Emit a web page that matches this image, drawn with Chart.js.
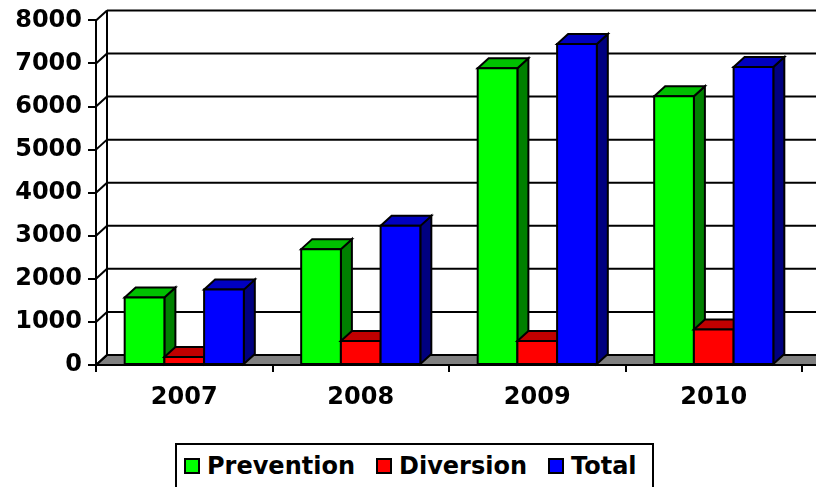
<!DOCTYPE html>
<html>
<head>
<meta charset="utf-8">
<script src="https://cdn.jsdelivr.net/npm/chart.js@4/dist/chart.umd.min.js"></script>
<style>
  body { margin: 0; background: #fff; }
  #wrap { position: relative; width: 816px; height: 487px; overflow: hidden; }
  #legend {
    position: absolute; left: 175px; top: 443px; width: 479px; height: 46px;
    box-sizing: border-box; border: 2px solid #000; background: #fff;
    display: flex; align-items: center; padding-left: 7px;
    font: bold 24px "DejaVu Sans", Verdana, sans-serif; color: #000;
  }
  #legend .sw { width: 16px; height: 16px; box-sizing: border-box; border: 2px solid #000; margin-right: 7px; }
  #legend .item { display: flex; align-items: center; margin-right: 21px; white-space: nowrap; }
</style>
</head>
<body>
<div id="wrap">
  <canvas id="chart" width="816" height="487"></canvas>
  <div id="legend"></div>
</div>
<script>
const years = ["2007", "2008", "2009", "2010"];
const prevention = [1565, 2690, 6890, 6240];
const diversion = [185, 555, 555, 825];
const total = [1750, 3230, 7450, 6920];
const yTicks = [0, 1000, 2000, 3000, 4000, 5000, 6000, 7000, 8000];

const seriesNames = ["Prevention", "Diversion", "Total"];
const seriesData = [prevention, diversion, total];
// front, top, side
const faces = [
  ["#00ff00", "#00c000", "#008000"],
  ["#ff0000", "#c00000", "#800000"],
  ["#0000ff", "#0000c0", "#000080"]
];

const DX = 11, DY = 10;
const FONT = "'DejaVu Sans', Verdana, sans-serif";

function poly(ctx, pts, fill) {
  ctx.beginPath();
  ctx.moveTo(pts[0][0], pts[0][1]);
  pts.slice(1).forEach(p => ctx.lineTo(p[0], p[1]));
  ctx.closePath();
  if (fill) { ctx.fillStyle = fill; ctx.fill(); }
  ctx.stroke();
}
function line(ctx, x1, y1, x2, y2) {
  ctx.beginPath();
  ctx.moveTo(x1, y1);
  ctx.lineTo(x2, y2);
  ctx.stroke();
}

const depth = {
  id: "depth",
  beforeDatasetsDraw(chart) {
    const { ctx, chartArea: a, scales: { y } } = chart;
    const base = y.getPixelForValue(0);
    const far = chart.width + 20;
    ctx.save();
    ctx.strokeStyle = "#000";
    ctx.lineWidth = 2;
    poly(ctx, [[a.left, base], [far, base], [far, base - DY], [a.left + DX, base - DY]], "#808080");
    yTicks.forEach(v => {
      const py = y.getPixelForValue(v);
      line(ctx, a.left, py, a.left + DX, py - DY);
      if (v > 0) line(ctx, a.left + DX, py - DY, far, py - DY);
    });
    line(ctx, a.left + DX, y.getPixelForValue(yTicks[yTicks.length - 1]) - DY, a.left + DX, base - DY);
    ctx.restore();
  },
  afterDatasetsDraw(chart) {
    const { ctx } = chart;
    ctx.save();
    ctx.strokeStyle = "#000";
    ctx.lineWidth = 2;
    ctx.lineJoin = "miter";
    years.forEach((_, i) => {
      seriesData.forEach((_, d) => {
        const bar = chart.getDatasetMeta(d).data[i];
        const { x, y, base, width } = bar.getProps(["x", "y", "base", "width"], true);
        const l = x - width / 2, r = x + width / 2;
        const [front, top, side] = faces[d];
        poly(ctx, [[r, y], [r + DX, y - DY], [r + DX, base - DY], [r, base]], side);
        poly(ctx, [[l, y], [r, y], [r + DX, y - DY], [l + DX, y - DY]], top);
        poly(ctx, [[l, y], [r, y], [r, base], [l, base]], front);
      });
    });
    ctx.restore();
  }
};

new Chart(document.getElementById("chart"), {
  type: "bar",
  data: {
    labels: years,
    datasets: seriesData.map((data, d) => ({
      label: seriesNames[d],
      data,
      backgroundColor: faces[d][0],
      borderWidth: 0,
      categoryPercentage: 0.675,
      barPercentage: 1
    }))
  },
  options: {
    responsive: false,
    animation: false,
    layout: { padding: { top: 19, right: 14, left: 0, bottom: 0 } },
    plugins: { legend: { display: false }, tooltip: { enabled: false } },
    scales: {
      x: {
        afterFit: s => { s.height = 122; },
        grid: { offset: true, drawOnChartArea: false, tickLength: 7, color: "#000", lineWidth: 2 },
        border: { display: false },
        ticks: { color: "#000", padding: 11, font: { family: FONT, size: 24, weight: "bold" } }
      },
      y: {
        min: 0, max: 8000,
        afterFit: s => { s.width = 96; },
        afterBuildTicks: s => { s.ticks = yTicks.map(value => ({ value })); },
        grid: { drawOnChartArea: false, tickLength: 8, color: "#000", lineWidth: 2 },
        border: { display: true, color: "#000", width: 2 },
        ticks: { color: "#000", padding: 6, callback: v => String(v), font: { family: FONT, size: 24, weight: "bold" } }
      }
    }
  },
  plugins: [depth]
});

document.getElementById("legend").innerHTML = seriesNames.map((name, d) =>
  `<span class="item"><span class="sw" style="background:${faces[d][0]}"></span>${name}</span>`).join("");
</script>
</body>
</html>
